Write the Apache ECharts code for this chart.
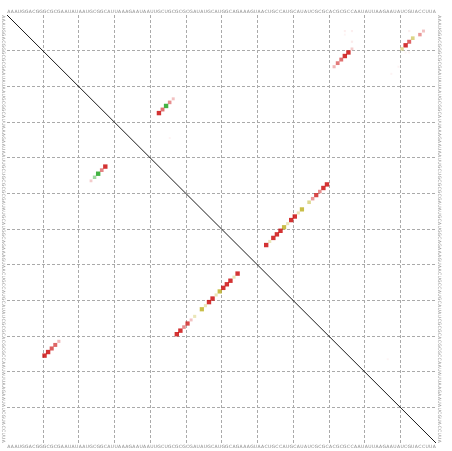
<!DOCTYPE html>
<html>
<head>
<meta charset="utf-8">
<script src="https://cdn.jsdelivr.net/npm/echarts@6/dist/echarts.min.js"></script>
<style>html,body{margin:0;padding:0;background:#fff}#c{width:452px;height:451px}</style>
</head>
<body>
<div id="c"></div>
<script>
// Sequence (tick labels, one per nucleotide)
const sequence = "AAAUGGACGG" + "GCGCGAAUAU" + "AAUGCGGCAU" + "UAAAGAAUAA" + "UUGCUGCGCG" +
                 "CGAUAUGCAU" + "GGCAGAAAGU" + "AACUGCCAUG" + "CAUAUCGCGC" + "ACGCGCCAAU" +
                 "AUUAAGAAUA" + "UCGUACCUUA";
const seqLetters = sequence.split("");
const gridTicks = [0, 10, 20, 30, 40, 50, 60, 70, 80, 90, 100, 110, 120];

// Upper-right triangle (x = j, y = i)
const upperI    = [5, 6, 7, 8, 9, 10,
                   10, 11, 12, 13, 14, 15,
                   24, 25, 26, 27, 28,
                   48, 49, 50, 51, 52, 53, 55, 56, 57, 58, 59, 60, 61, 62, 63, 64, 65,
                   5, 5, 6, 8, 5, 11, 11, 15, 17, 35, 97];
const upperJ    = [117, 116, 114, 113, 112, 111,
                   97, 96, 95, 94, 93, 92,
                   47, 46, 45, 44, 43,
                   90, 89, 88, 87, 86, 85, 83, 82, 81, 80, 79, 78, 77, 76, 75, 74, 73,
                   95, 97, 95, 97, 113, 112, 113, 110, 108, 46, 107];
const upperProb = [0.3, 0.5, 0.6, 0.75, 1.0, 0.5,
                   0.25, 1.0, 1.0, 0.7, 0.65, 0.35,
                   0.3, 0.55, 1.0, 0.7, 1.0,
                   1.0, 1.0, 0.55, 0.9, 0.5, 0.55, 0.9, 0.35, 1.0, 1.0, 0.35, 0.9, 1.0, 1.0, 1.0, 0.35, 1.0,
                   0.08, 0.08, 0.06, 0.1, 0.08, 0.06, 0.06, 0.06, 0.06, 0.06, 0.05];
const upperKind = ["GC", "GC", "AU", "GC", "GC", "AU",
                   "GC", "GC", "GC", "GC", "GC", "GC",
                   "GC", "GC", "GU", "GC", "GC",
                   "GC", "GC", "GC", "GC", "GC", "AU", "AU", "AU", "GC", "GC", "AU", "AU", "GC", "GC", "GC", "AU", "GC",
                   "GC", "GC", "GC", "GC", "GC", "GC", "GC", "GC", "GC", "GC", "GC"];

// Lower-left triangle (x = i, y = j)
const lowerI    = [11, 12, 13, 14, 15,
                   24, 25, 26, 27, 28,
                   48, 49, 50, 51, 52, 53, 55, 56, 57, 58, 59, 60, 61, 62, 63, 64, 65];
const lowerJ    = [96, 95, 94, 93, 92,
                   47, 46, 45, 44, 43,
                   90, 89, 88, 87, 86, 85, 83, 82, 81, 80, 79, 78, 77, 76, 75, 74, 73];
const lowerProb = [1.0, 1.0, 0.8, 0.75, 0.35,
                   0.25, 0.5, 1.0, 0.6, 1.0,
                   1.0, 1.0, 0.55, 0.9, 0.3, 0.35, 0.9, 0.35, 1.0, 1.0, 0.35, 0.9, 1.0, 1.0, 1.0, 0.35, 1.0];
const lowerKind = ["GC", "GC", "GC", "GC", "GC",
                   "GC", "GU", "GU", "GC", "GC",
                   "GC", "GC", "GC", "GC", "GC", "AU", "AU", "AU", "GC", "GC", "AU", "AU", "GC", "GC", "GC", "AU", "GC"];

const baseColor = { GC: [200, 0, 0], AU: [180, 165, 0], GU: [20, 160, 20] };
function colorOf(kind, p) {
  const b = baseColor[kind];
  const c = b.map(v => Math.round(255 - p * (255 - v)));
  return "rgb(" + c.join(",") + ")";
}
function sizeOf(p) { return 1.2 + 3.2 * Math.sqrt(p); }

function buildPoints(xs, ys, ps, ks) {
  return xs.map((x, k) => ({
    value: [x - 0.5, ys[k] - 0.5],
    symbolSize: sizeOf(ps[k]),
    itemStyle: { color: colorOf(ks[k], ps[k]) }
  }));
}
const upperData = buildPoints(upperJ, upperI, upperProb, upperKind);
const lowerData = buildPoints(lowerI, lowerJ, lowerProb, lowerKind);

const N = seqLetters.length;
const gridRect = { left: 7, top: 15, right: 16, bottom: 8 };
const splitStyle = { show: true, showMinLine: false, showMaxLine: false,
  lineStyle: { color: "#aaaaaa", width: 1, type: [3, 2] } };
const seqLabel = { interval: 0, fontSize: 4.5, margin: 1, color: "#888888", fontFamily: "DejaVu Sans" };

const chart = echarts.init(document.getElementById("c"), null, { renderer: "canvas" });
chart.setOption({
  animation: false,
  grid: [Object.assign({}, gridRect), Object.assign({}, gridRect)],
  xAxis: [
    { gridIndex: 0, type: "value", min: gridTicks[0], max: N, interval: 10,
      axisLine: { show: false }, axisTick: { show: false }, axisLabel: { show: false },
      splitLine: splitStyle },
    { gridIndex: 1, type: "category", position: "top", data: seqLetters, boundaryGap: true,
      axisLine: { show: false }, axisTick: { show: false }, splitLine: { show: false },
      axisLabel: seqLabel },
    { gridIndex: 1, type: "category", position: "bottom", data: seqLetters, boundaryGap: true,
      axisLine: { show: false }, axisTick: { show: false }, splitLine: { show: false },
      axisLabel: seqLabel }
  ],
  yAxis: [
    { gridIndex: 0, type: "value", min: gridTicks[0], max: N, interval: 10, inverse: true,
      axisLine: { show: false }, axisTick: { show: false }, axisLabel: { show: false },
      splitLine: splitStyle },
    { gridIndex: 1, type: "category", position: "left", data: seqLetters, inverse: true, boundaryGap: true,
      axisLine: { show: false }, axisTick: { show: false }, splitLine: { show: false },
      axisLabel: Object.assign({}, seqLabel, { rotate: -90 }) },
    { gridIndex: 1, type: "category", position: "right", data: seqLetters, inverse: true, boundaryGap: true,
      axisLine: { show: false }, axisTick: { show: false }, splitLine: { show: false },
      axisLabel: Object.assign({}, seqLabel, { rotate: -90 }) }
  ],
  series: [
    { type: "line", xAxisIndex: 0, yAxisIndex: 0, data: [[0, 0], [N, N]],
      symbol: "none", silent: true, lineStyle: { color: "#000000", width: 0.9 } },
    { type: "scatter", xAxisIndex: 0, yAxisIndex: 0, symbol: "rect", data: upperData },
    { type: "scatter", xAxisIndex: 0, yAxisIndex: 0, symbol: "rect", data: lowerData }
  ]
});
</script>
</body>
</html>
